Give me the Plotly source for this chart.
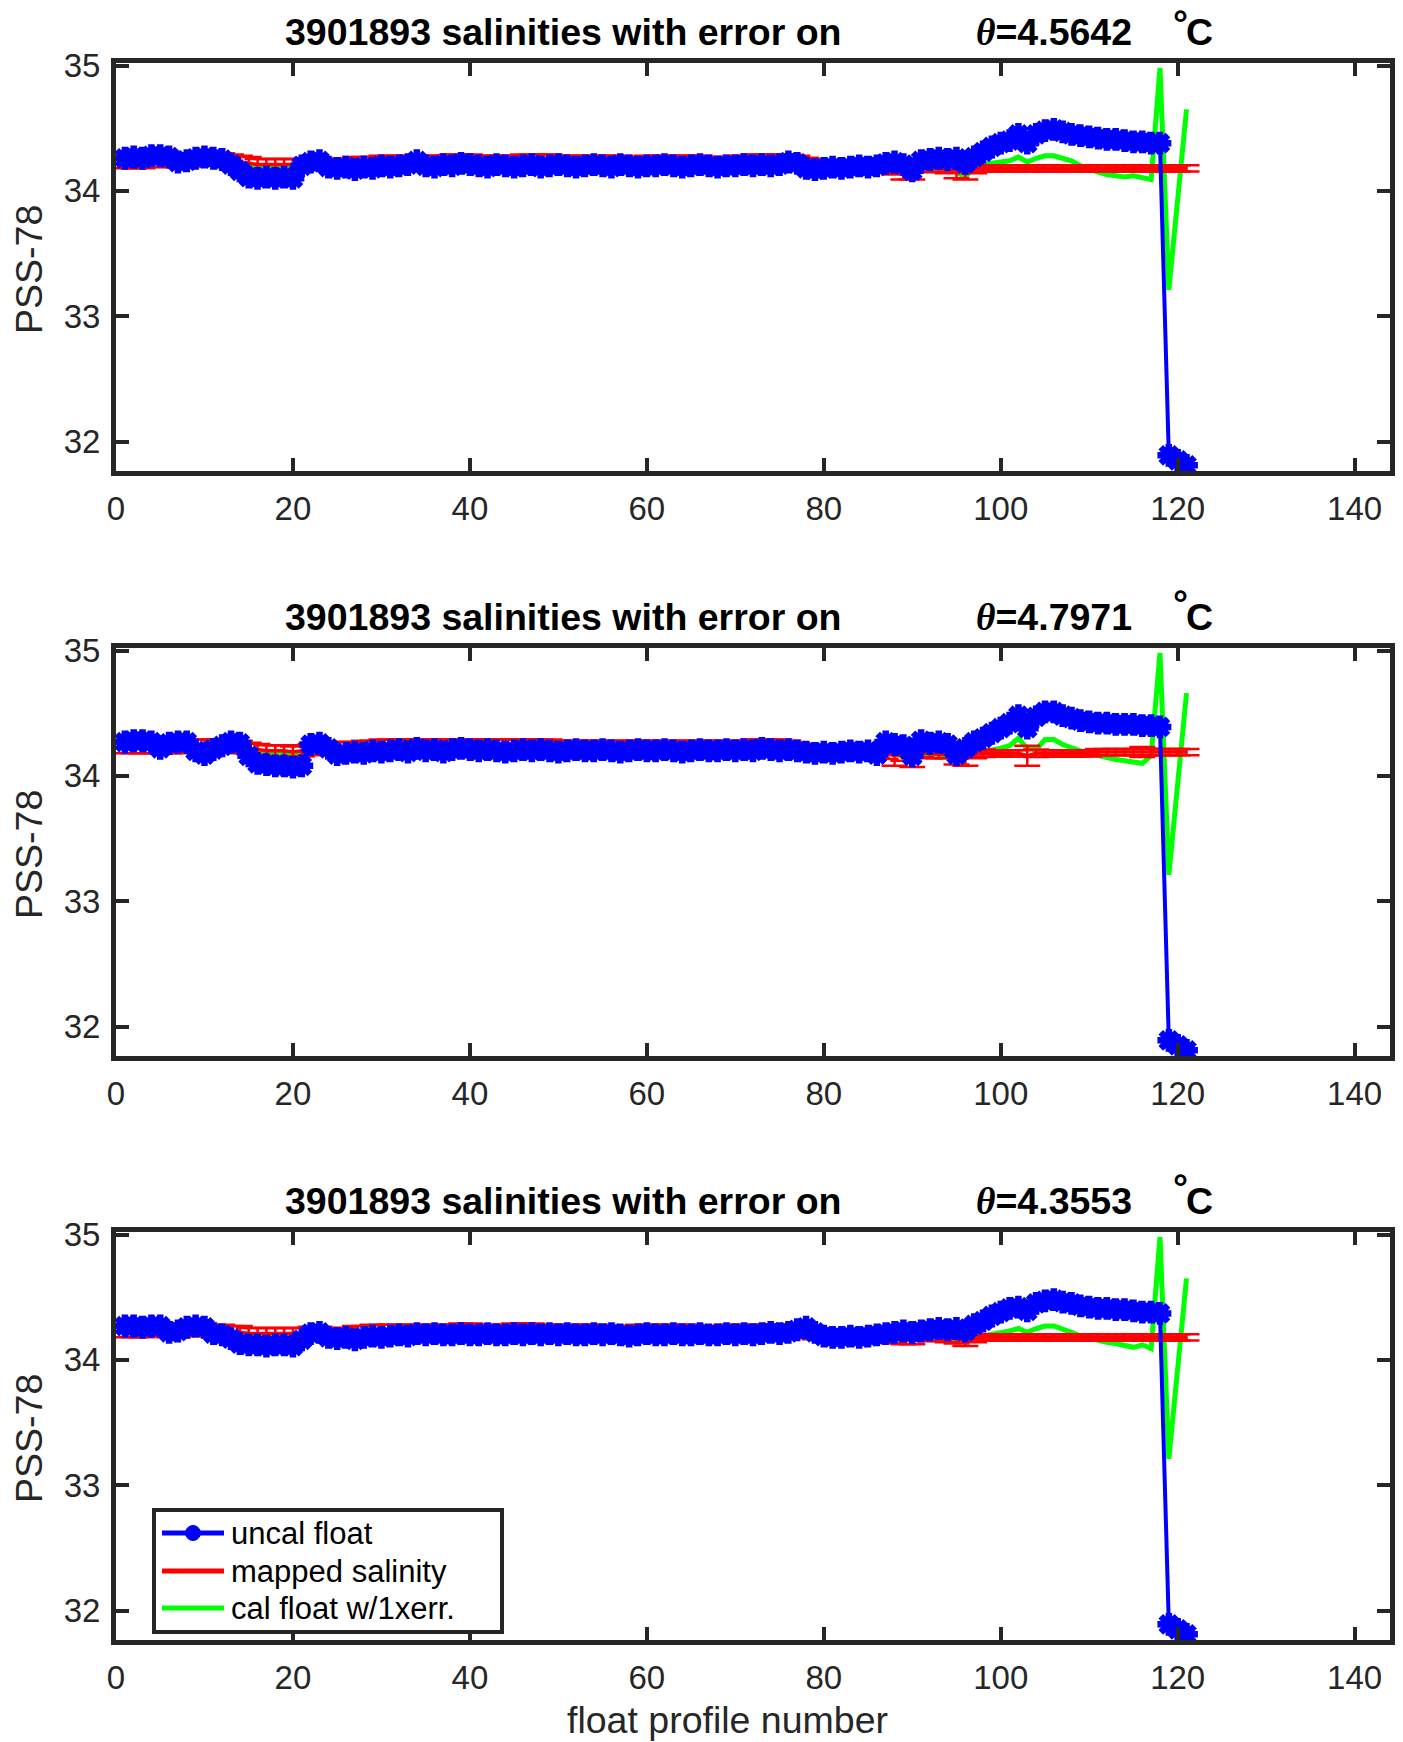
import plotly.graph_objects as go

W, H = 1403, 1742

# ---------------------------------------------------------------- data
profile_no = list(range(1, 122))
float_id = "3901893"
theta_labels = ["4.5642", "4.7971", "4.3553"]
x_ticks = [0, 20, 40, 60, 80, 100, 120, 140]
y_ticks = [32, 33, 34, 35]
legend_labels = ["uncal float", "mapped salinity", "cal float w/1xerr."]

# theta level 1
uncal_1 = [
    34.26, 34.27, 34.26, 34.28, 34.28, 34.27, 34.23, 34.24, 34.26, 34.27,
    34.26, 34.25, 34.21, 34.16, 34.11, 34.10, 34.11, 34.10, 34.11, 34.10,
    34.20, 34.23, 34.24, 34.19, 34.18, 34.19, 34.17, 34.19, 34.18, 34.20,
    34.19, 34.20, 34.21, 34.24, 34.20, 34.19, 34.21, 34.20, 34.22, 34.21,
    34.20, 34.19, 34.21, 34.20, 34.19, 34.20, 34.21, 34.19, 34.20, 34.21,
    34.20, 34.19, 34.20, 34.21, 34.20, 34.19, 34.21, 34.20, 34.19, 34.20,
    34.20, 34.21, 34.20, 34.19, 34.20, 34.21, 34.20, 34.19, 34.20, 34.20,
    34.21, 34.20, 34.21, 34.20, 34.21, 34.23, 34.22, 34.18, 34.17, 34.18,
    34.19, 34.18, 34.19, 34.20, 34.19, 34.20, 34.22, 34.23, 34.21, 34.16,
    34.24, 34.25, 34.26, 34.25, 34.26, 34.22, 34.27, 34.31, 34.35, 34.38,
    34.40, 34.45, 34.38, 34.45, 34.48, 34.49, 34.47, 34.45, 34.44, 34.43,
    34.42, 34.41, 34.41, 34.40, 34.39, 34.39, 34.38, 34.38, 31.89, 31.85,
    31.81,
]
mapped_1 = [
    34.23, 34.23, 34.23, 34.24, 34.24, 34.24, 34.24, 34.24, 34.25, 34.25,
    34.25, 34.25, 34.24, 34.23, 34.22, 34.21, 34.21, 34.21, 34.21, 34.21,
    34.21, 34.22, 34.22, 34.21, 34.21, 34.21, 34.22, 34.22, 34.22, 34.23,
    34.23, 34.23, 34.23, 34.23, 34.23, 34.23, 34.23, 34.24, 34.24, 34.24,
    34.23, 34.23, 34.23, 34.23, 34.23, 34.24, 34.24, 34.24, 34.24, 34.23,
    34.23, 34.23, 34.23, 34.23, 34.23, 34.23, 34.23, 34.22, 34.22, 34.23,
    34.23, 34.23, 34.23, 34.23, 34.23, 34.23, 34.22, 34.22, 34.22, 34.23,
    34.23, 34.24, 34.24, 34.24, 34.24, 34.24, 34.23, 34.22, 34.21, 34.20,
    34.20, 34.20, 34.20, 34.20, 34.20, 34.19, 34.19, 34.18, 34.16, 34.16,
    34.18, 34.18, 34.18, 34.17, 34.16, 34.16, 34.17, 34.18, 34.18, 34.18,
    34.18, 34.18, 34.18, 34.18, 34.18, 34.18, 34.18, 34.18, 34.18, 34.18,
    34.18, 34.18, 34.18, 34.18, 34.18, 34.18, 34.18, 34.18, 34.18, 34.18,
    34.18,
]
mapped_err_1 = [
    0.050, 0.050, 0.050, 0.050, 0.050, 0.050, 0.050, 0.050, 0.050, 0.050,
    0.050, 0.050, 0.050, 0.050, 0.050, 0.045, 0.045, 0.045, 0.045, 0.045,
    0.045, 0.045, 0.045, 0.045, 0.045, 0.045, 0.050, 0.050, 0.050, 0.050,
    0.050, 0.050, 0.050, 0.050, 0.050, 0.050, 0.050, 0.050, 0.050, 0.050,
    0.050, 0.050, 0.050, 0.050, 0.050, 0.050, 0.050, 0.050, 0.050, 0.050,
    0.050, 0.050, 0.050, 0.050, 0.050, 0.050, 0.050, 0.050, 0.050, 0.050,
    0.050, 0.050, 0.050, 0.050, 0.050, 0.050, 0.050, 0.050, 0.050, 0.050,
    0.050, 0.050, 0.050, 0.050, 0.050, 0.050, 0.050, 0.045, 0.045, 0.045,
    0.045, 0.045, 0.045, 0.045, 0.045, 0.045, 0.045, 0.050, 0.070, 0.070,
    0.030, 0.030, 0.030, 0.030, 0.060, 0.070, 0.030, 0.025, 0.025, 0.025,
    0.025, 0.025, 0.025, 0.025, 0.025, 0.025, 0.025, 0.025, 0.025, 0.025,
    0.025, 0.025, 0.025, 0.025, 0.025, 0.025, 0.025, 0.025, 0.025, 0.025,
    0.025,
]
cal_1 = [
    34.23, 34.24, 34.23, 34.25, 34.25, 34.24, 34.22, 34.23, 34.24, 34.25,
    34.24, 34.24, 34.22, 34.20, 34.19, 34.19, 34.19, 34.19, 34.19, 34.19,
    34.21, 34.23, 34.24, 34.21, 34.20, 34.21, 34.20, 34.21, 34.20, 34.21,
    34.21, 34.21, 34.22, 34.24, 34.21, 34.21, 34.22, 34.21, 34.22, 34.22,
    34.21, 34.21, 34.21, 34.21, 34.21, 34.21, 34.22, 34.21, 34.21, 34.22,
    34.21, 34.21, 34.21, 34.22, 34.21, 34.21, 34.22, 34.21, 34.21, 34.21,
    34.21, 34.22, 34.21, 34.21, 34.21, 34.22, 34.21, 34.21, 34.21, 34.21,
    34.21, 34.21, 34.22, 34.21, 34.21, 34.22, 34.22, 34.19, 34.18, 34.18,
    34.18, 34.18, 34.18, 34.18, 34.18, 34.18, 34.18, 34.17, 34.16, 34.14,
    34.17, 34.17, 34.17, 34.17, 34.15, 34.11, 34.19, 34.21, 34.22, 34.23,
    34.24, 34.27, 34.23, 34.26, 34.28, 34.28, 34.26, 34.24, 34.20, 34.17,
    34.15, 34.13, 34.12, 34.11, 34.12, 34.10, 34.09, 34.98, 33.21, 33.93,
    34.65,
]

# theta level 2
uncal_2 = [
    34.27, 34.28, 34.28, 34.27, 34.22, 34.26, 34.27, 34.27, 34.20, 34.17,
    34.21, 34.24, 34.27, 34.26, 34.16, 34.10, 34.09, 34.08, 34.08, 34.07,
    34.08, 34.25, 34.26, 34.22, 34.17, 34.18, 34.19, 34.18, 34.20, 34.19,
    34.20, 34.21, 34.19, 34.22, 34.20, 34.21, 34.19, 34.21, 34.22, 34.21,
    34.20, 34.21, 34.20, 34.19, 34.20, 34.21, 34.20, 34.21, 34.20, 34.19,
    34.20, 34.21, 34.20, 34.20, 34.21, 34.20, 34.19, 34.20, 34.21, 34.20,
    34.20, 34.21, 34.20, 34.19, 34.20, 34.21, 34.20, 34.20, 34.21, 34.20,
    34.21, 34.20, 34.22, 34.21, 34.20, 34.21, 34.20, 34.19, 34.18, 34.19,
    34.18, 34.19, 34.20, 34.19, 34.20, 34.17, 34.27, 34.25, 34.24, 34.16,
    34.28, 34.26, 34.27, 34.25, 34.17, 34.22, 34.27, 34.30, 34.34, 34.38,
    34.42, 34.48, 34.38, 34.47, 34.51, 34.51, 34.48, 34.46, 34.44, 34.43,
    34.42, 34.42, 34.41, 34.41, 34.41, 34.40, 34.40, 34.39, 31.89, 31.85,
    31.81,
]
mapped_2 = [
    34.23, 34.23, 34.23, 34.23, 34.23, 34.23, 34.23, 34.24, 34.24, 34.24,
    34.24, 34.24, 34.24, 34.23, 34.22, 34.21, 34.20, 34.20, 34.20, 34.19,
    34.20, 34.21, 34.22, 34.22, 34.22, 34.22, 34.22, 34.23, 34.23, 34.24,
    34.24, 34.24, 34.24, 34.24, 34.24, 34.24, 34.24, 34.24, 34.24, 34.24,
    34.24, 34.24, 34.24, 34.24, 34.24, 34.24, 34.24, 34.24, 34.24, 34.23,
    34.23, 34.23, 34.23, 34.23, 34.23, 34.23, 34.23, 34.23, 34.23, 34.23,
    34.23, 34.23, 34.23, 34.23, 34.23, 34.23, 34.23, 34.23, 34.23, 34.23,
    34.23, 34.24, 34.24, 34.24, 34.24, 34.23, 34.22, 34.21, 34.20, 34.20,
    34.20, 34.20, 34.20, 34.20, 34.19, 34.19, 34.18, 34.16, 34.17, 34.15,
    34.18, 34.18, 34.17, 34.17, 34.15, 34.15, 34.17, 34.18, 34.18, 34.18,
    34.18, 34.18, 34.16, 34.18, 34.18, 34.18, 34.18, 34.18, 34.18, 34.18,
    34.19, 34.19, 34.19, 34.19, 34.19, 34.19, 34.19, 34.19, 34.19, 34.19,
    34.19,
]
mapped_err_2 = [
    0.050, 0.050, 0.050, 0.050, 0.050, 0.050, 0.050, 0.050, 0.050, 0.050,
    0.050, 0.050, 0.050, 0.050, 0.045, 0.045, 0.045, 0.045, 0.045, 0.045,
    0.045, 0.045, 0.050, 0.050, 0.050, 0.050, 0.050, 0.050, 0.050, 0.050,
    0.050, 0.050, 0.050, 0.050, 0.050, 0.050, 0.050, 0.050, 0.050, 0.050,
    0.050, 0.050, 0.050, 0.050, 0.050, 0.050, 0.050, 0.050, 0.050, 0.050,
    0.050, 0.050, 0.050, 0.050, 0.050, 0.050, 0.050, 0.050, 0.050, 0.050,
    0.050, 0.050, 0.050, 0.050, 0.050, 0.050, 0.050, 0.050, 0.050, 0.050,
    0.050, 0.050, 0.050, 0.050, 0.050, 0.050, 0.045, 0.045, 0.045, 0.045,
    0.045, 0.045, 0.045, 0.045, 0.045, 0.045, 0.045, 0.080, 0.050, 0.080,
    0.030, 0.040, 0.030, 0.030, 0.060, 0.070, 0.030, 0.030, 0.025, 0.025,
    0.025, 0.025, 0.080, 0.030, 0.025, 0.025, 0.025, 0.025, 0.025, 0.025,
    0.025, 0.025, 0.025, 0.025, 0.025, 0.040, 0.025, 0.025, 0.025, 0.025,
    0.025,
]
cal_2 = [
    34.24, 34.25, 34.25, 34.24, 34.21, 34.23, 34.24, 34.24, 34.20, 34.18,
    34.21, 34.23, 34.24, 34.23, 34.19, 34.19, 34.18, 34.18, 34.18, 34.18,
    34.18, 34.22, 34.23, 34.21, 34.20, 34.20, 34.21, 34.20, 34.21, 34.21,
    34.21, 34.22, 34.21, 34.22, 34.21, 34.22, 34.21, 34.22, 34.22, 34.22,
    34.21, 34.22, 34.21, 34.22, 34.21, 34.22, 34.21, 34.22, 34.21, 34.21,
    34.21, 34.21, 34.22, 34.21, 34.21, 34.22, 34.21, 34.21, 34.21, 34.21,
    34.21, 34.21, 34.21, 34.21, 34.22, 34.21, 34.21, 34.21, 34.21, 34.21,
    34.22, 34.21, 34.22, 34.21, 34.21, 34.21, 34.21, 34.20, 34.19, 34.19,
    34.19, 34.19, 34.19, 34.19, 34.19, 34.17, 34.17, 34.18, 34.15, 34.12,
    34.17, 34.16, 34.17, 34.16, 34.11, 34.15, 34.18, 34.19, 34.20, 34.22,
    34.24, 34.30, 34.22, 34.21, 34.29, 34.29, 34.25, 34.22, 34.20, 34.18,
    34.16, 34.15, 34.13, 34.12, 34.11, 34.10, 34.16, 34.98, 33.21, 33.93,
    34.66,
]

# theta level 3
uncal_3 = [
    34.27, 34.27, 34.26, 34.27, 34.27, 34.22, 34.23, 34.26, 34.27, 34.26,
    34.21, 34.20, 34.17, 34.13, 34.12, 34.12, 34.11, 34.12, 34.12, 34.11,
    34.16, 34.21, 34.22, 34.18, 34.17, 34.18, 34.16, 34.18, 34.19, 34.18,
    34.19, 34.20, 34.19, 34.21, 34.20, 34.21, 34.20, 34.20, 34.21, 34.20,
    34.20, 34.21, 34.20, 34.20, 34.21, 34.20, 34.21, 34.20, 34.21, 34.20,
    34.21, 34.20, 34.20, 34.21, 34.20, 34.21, 34.20, 34.19, 34.20, 34.21,
    34.20, 34.20, 34.21, 34.20, 34.20, 34.21, 34.20, 34.20, 34.21, 34.20,
    34.21, 34.20, 34.21, 34.22, 34.21, 34.22, 34.24, 34.26, 34.22, 34.19,
    34.18, 34.18, 34.19, 34.18, 34.19, 34.20, 34.21, 34.22, 34.23, 34.22,
    34.23, 34.24, 34.25, 34.24, 34.25, 34.23, 34.28, 34.31, 34.35, 34.38,
    34.41, 34.42, 34.39, 34.45, 34.47, 34.48, 34.46, 34.45, 34.43, 34.42,
    34.41, 34.41, 34.40, 34.40, 34.39, 34.38, 34.38, 34.37, 31.89, 31.85,
    31.81,
]
mapped_3 = [
    34.23, 34.23, 34.23, 34.24, 34.24, 34.23, 34.23, 34.24, 34.24, 34.24,
    34.23, 34.23, 34.22, 34.22, 34.21, 34.21, 34.21, 34.21, 34.21, 34.21,
    34.21, 34.22, 34.22, 34.21, 34.21, 34.21, 34.22, 34.22, 34.23, 34.23,
    34.23, 34.23, 34.23, 34.23, 34.23, 34.23, 34.23, 34.23, 34.24, 34.24,
    34.23, 34.23, 34.23, 34.23, 34.24, 34.24, 34.24, 34.23, 34.23, 34.23,
    34.23, 34.23, 34.23, 34.23, 34.23, 34.22, 34.22, 34.22, 34.23, 34.23,
    34.23, 34.23, 34.23, 34.23, 34.23, 34.22, 34.22, 34.22, 34.23, 34.23,
    34.23, 34.23, 34.23, 34.23, 34.23, 34.23, 34.23, 34.22, 34.21, 34.20,
    34.20, 34.20, 34.20, 34.19, 34.19, 34.19, 34.18, 34.18, 34.17, 34.17,
    34.18, 34.18, 34.18, 34.17, 34.17, 34.16, 34.17, 34.18, 34.18, 34.18,
    34.18, 34.18, 34.18, 34.18, 34.18, 34.18, 34.18, 34.18, 34.18, 34.18,
    34.18, 34.18, 34.18, 34.18, 34.18, 34.18, 34.18, 34.18, 34.18, 34.18,
    34.18,
]
mapped_err_3 = [
    0.050, 0.050, 0.050, 0.050, 0.050, 0.050, 0.050, 0.050, 0.050, 0.050,
    0.050, 0.050, 0.050, 0.050, 0.045, 0.045, 0.045, 0.045, 0.045, 0.045,
    0.045, 0.045, 0.045, 0.045, 0.045, 0.045, 0.050, 0.050, 0.050, 0.050,
    0.050, 0.050, 0.050, 0.050, 0.050, 0.050, 0.050, 0.050, 0.050, 0.050,
    0.050, 0.050, 0.050, 0.050, 0.050, 0.050, 0.050, 0.050, 0.050, 0.050,
    0.050, 0.050, 0.050, 0.050, 0.050, 0.050, 0.050, 0.050, 0.050, 0.050,
    0.050, 0.050, 0.050, 0.050, 0.050, 0.050, 0.050, 0.050, 0.050, 0.050,
    0.050, 0.050, 0.050, 0.050, 0.050, 0.050, 0.050, 0.045, 0.045, 0.045,
    0.045, 0.045, 0.045, 0.045, 0.045, 0.045, 0.045, 0.045, 0.045, 0.045,
    0.030, 0.030, 0.030, 0.030, 0.040, 0.050, 0.030, 0.025, 0.025, 0.025,
    0.025, 0.025, 0.025, 0.025, 0.025, 0.025, 0.025, 0.025, 0.025, 0.025,
    0.025, 0.025, 0.025, 0.025, 0.025, 0.025, 0.025, 0.025, 0.025, 0.025,
    0.025,
]
cal_3 = [
    34.24, 34.24, 34.24, 34.24, 34.24, 34.21, 34.22, 34.24, 34.25, 34.24,
    34.21, 34.21, 34.20, 34.19, 34.19, 34.19, 34.19, 34.19, 34.19, 34.19,
    34.19, 34.21, 34.22, 34.20, 34.20, 34.20, 34.19, 34.20, 34.21, 34.20,
    34.21, 34.21, 34.21, 34.22, 34.21, 34.22, 34.21, 34.21, 34.22, 34.21,
    34.21, 34.22, 34.21, 34.21, 34.22, 34.21, 34.22, 34.21, 34.22, 34.21,
    34.22, 34.21, 34.21, 34.22, 34.21, 34.22, 34.21, 34.20, 34.21, 34.22,
    34.21, 34.21, 34.22, 34.21, 34.21, 34.22, 34.21, 34.21, 34.22, 34.21,
    34.21, 34.21, 34.21, 34.22, 34.21, 34.22, 34.23, 34.24, 34.21, 34.19,
    34.19, 34.19, 34.19, 34.19, 34.19, 34.19, 34.18, 34.18, 34.17, 34.17,
    34.17, 34.17, 34.18, 34.17, 34.17, 34.15, 34.18, 34.19, 34.20, 34.21,
    34.23, 34.25, 34.22, 34.25, 34.27, 34.27, 34.25, 34.22, 34.19, 34.17,
    34.15, 34.14, 34.13, 34.11, 34.10, 34.12, 34.09, 34.98, 33.21, 33.93,
    34.65,
]

panels = [
    (uncal_1, mapped_1, mapped_err_1, cal_1),
    (uncal_2, mapped_2, mapped_err_2, cal_2),
    (uncal_3, mapped_3, mapped_err_3, cal_3),
]

# ---------------------------------------------------------------- style
BLUE, RED, GREEN = "#0000ff", "#ff0000", "#00ff00"
AX_COLOR = "#262626"
FONT = "Liberation Sans, Arial, Helvetica, sans-serif"
TICK_SIZE = 33
LABEL_SIZE = 37.5

X_LEFT, X_RIGHT = 116, 1390          # plot box, in pixels
PANEL_TOPS = [63, 648, 1232]
PANEL_H = 408
X_RANGE = [0, 144]
Y_RANGE = [31.765, 35.02]


def fx(px):
    return px / W


def fy(py):
    return 1 - py / H


fig = go.Figure()
annotations = []
shapes = []

for i, (uncal, mapped, err, cal) in enumerate(panels):
    sfx = "" if i == 0 else str(i + 1)
    xa, ya = "x" + sfx, "y" + sfx

    fig.add_trace(go.Scatter(
        x=profile_no, y=cal, mode="lines",
        line=dict(color=GREEN, width=5),
        xaxis=xa, yaxis=ya, showlegend=False, hoverinfo="skip"))
    fig.add_trace(go.Scatter(
        x=profile_no, y=mapped, mode="lines",
        line=dict(color=RED, width=3.5),
        error_y=dict(type="data", array=err, visible=True,
                     color=RED, thickness=2.5, width=13),
        xaxis=xa, yaxis=ya, showlegend=False, hoverinfo="skip"))
    fig.add_trace(go.Scatter(
        x=profile_no, y=uncal, mode="lines+markers",
        line=dict(color=BLUE, width=4),
        marker=dict(color=BLUE, size=19, symbol="asterisk-open",
                    line=dict(color=BLUE, width=6.5)),
        xaxis=xa, yaxis=ya, showlegend=False, hoverinfo="skip"))

    top = PANEL_TOPS[i]
    bottom = top + PANEL_H
    common = dict(
        showline=True, linecolor=AX_COLOR, linewidth=5, mirror="ticks",
        ticks="inside", ticklen=13, tickwidth=4, tickcolor=AX_COLOR,
        showgrid=False, zeroline=False, automargin=False,
        tickfont=dict(family=FONT, size=TICK_SIZE, color=AX_COLOR),
    )
    fig.update_layout(**{
        "xaxis" + sfx: dict(
            domain=[fx(X_LEFT), fx(X_RIGHT)], range=X_RANGE,
            tickvals=x_ticks, anchor=ya, ticklabelstandoff=4, **common),
        "yaxis" + sfx: dict(
            domain=[fy(bottom), fy(top)], range=Y_RANGE,
            tickvals=y_ticks, anchor=xa, ticklabelstandoff=4, **common),
    })

    # title pieces
    ty = top - 31
    deg = dict(text="<b>°</b>", x=fx(1171), xanchor="left",
               font=dict(family=FONT, size=LABEL_SIZE, color="#000000"))
    if i == 0:
        # keep the raised degree sign inside the page
        deg.update(y=1.0, yanchor="top")
    else:
        deg.update(y=fy(ty - 14), yanchor="middle")
    annotations += [
        dict(text=f"<b>{float_id} salinities with error on</b>",
             x=fx(283), y=fy(ty), xanchor="left", yanchor="middle",
             font=dict(family=FONT, size=LABEL_SIZE, color="#000000")),
        dict(text=("<b><span style='font-family:Liberation Serif'><i>θ</i></span>"
                   f"={theta_labels[i]}</b>"),
             x=fx(974), y=fy(ty), xanchor="left", yanchor="middle",
             font=dict(family=FONT, size=LABEL_SIZE, color="#000000")),
        deg,
        dict(text="<b>C</b>",
             x=fx(1184), y=fy(ty), xanchor="left", yanchor="middle",
             font=dict(family=FONT, size=LABEL_SIZE, color="#000000")),
        dict(text="PSS-78", textangle=-90,
             x=fx(29), y=fy(top + PANEL_H / 2 + 3), xanchor="center", yanchor="middle",
             font=dict(family=FONT, size=LABEL_SIZE, color=AX_COLOR)),
    ]

annotations.append(dict(
    text="float profile number", x=fx(727), y=fy(1720),
    xanchor="center", yanchor="middle",
    font=dict(family=FONT, size=LABEL_SIZE, color=AX_COLOR)))

# legend box inside the bottom panel
LEG_L, LEG_R, LEG_T, LEG_B = 154, 502, 1510, 1632
shapes.append(dict(type="rect", xref="paper", yref="paper",
                   x0=fx(LEG_L), x1=fx(LEG_R), y0=fy(LEG_B), y1=fy(LEG_T),
                   line=dict(color=AX_COLOR, width=4), fillcolor="#ffffff",
                   layer="above"))
row_y = [1533, 1571, 1608]
row_colors = [BLUE, RED, GREEN]
for yy, col, lab in zip(row_y, row_colors, legend_labels):
    shapes.append(dict(type="line", xref="paper", yref="paper",
                       x0=fx(162), x1=fx(224), y0=fy(yy), y1=fy(yy),
                       line=dict(color=col, width=5), layer="above"))
    annotations.append(dict(
        text=lab, x=fx(229), y=fy(yy), xanchor="left", yanchor="middle",
        font=dict(family=FONT, size=31, color="#000000")))
shapes.append(dict(type="circle", xref="paper", yref="paper",
                   x0=fx(185.5), x1=fx(200.5),
                   y0=fy(row_y[0] + 7.5), y1=fy(row_y[0] - 7.5),
                   line=dict(color=BLUE, width=1), fillcolor=BLUE,
                   layer="above"))

for a in annotations:
    a.setdefault("xref", "paper")
    a.setdefault("yref", "paper")
    a.setdefault("showarrow", False)

fig.update_layout(
    width=W, height=H,
    margin=dict(l=0, r=0, t=0, b=0, autoexpand=False),
    paper_bgcolor="#ffffff", plot_bgcolor="#ffffff",
    showlegend=False,
    annotations=annotations,
    shapes=shapes,
    font=dict(family=FONT),
)

fig.write_html("out.html")
